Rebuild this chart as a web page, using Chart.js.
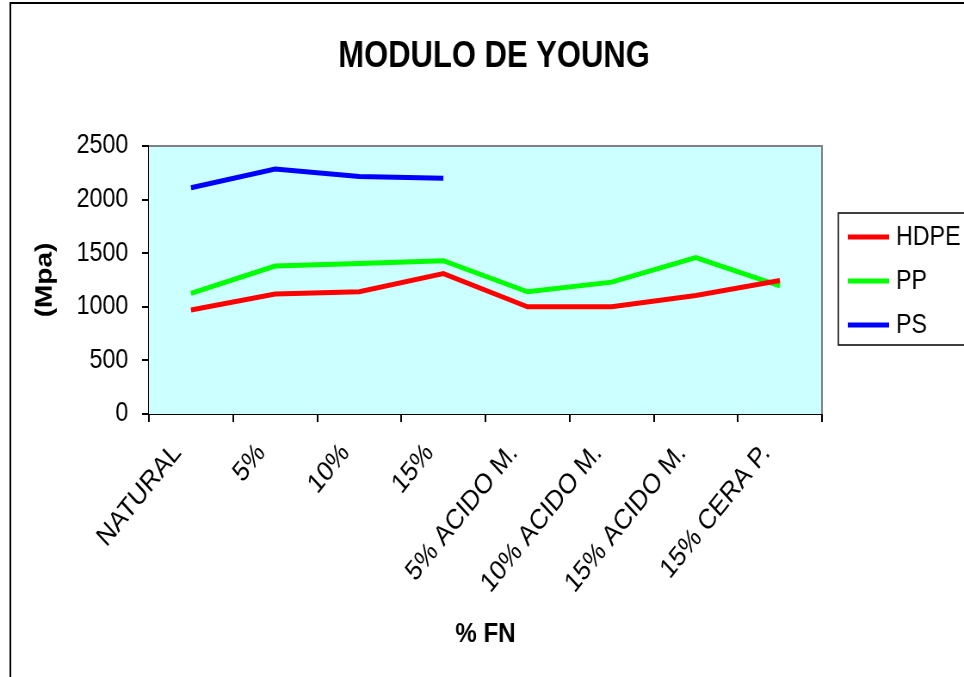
<!DOCTYPE html>
<html>
<head>
<meta charset="utf-8">
<script src="https://cdn.jsdelivr.net/npm/chart.js@4/dist/chart.umd.min.js"></script>
<style>
  body { margin: 0; background: #fff; }
</style>
</head>
<body>
<!-- drawn 1120 wide and squeezed to 964, like the original picture -->
<canvas id="c" width="1120" height="677" style="display:block;width:964px;height:677px"></canvas>
<script>
const categories = ['NATURAL', '5%', '10%', '15%', '5% ACIDO M.', '10% ACIDO M.', '15% ACIDO M.', '15% CERA P.'];
const hdpe = [970, 1120, 1140, 1310, 1000, 1000, 1105, 1245];
const pp = [1125, 1380, 1405, 1430, 1140, 1230, 1460, 1195];
const ps = [2110, 2285, 2215, 2200, null, null, null, null];
const yTicks = [0, 500, 1000, 1500, 2000, 2500];

const FONT = '"Liberation Sans", Arial, sans-serif';

// plot background, frame, title and the boxed legend
const decor = {
	id: 'decor',
	beforeDatasetsDraw(chart) {
		const { ctx, chartArea: a } = chart;
		ctx.save();
		ctx.fillStyle = '#CCFFFF';
		ctx.fillRect(a.left, a.top, a.right - a.left, a.bottom - a.top);
		ctx.strokeStyle = '#808080';
		ctx.lineWidth = 2;
		ctx.beginPath();
		ctx.moveTo(a.left, a.top);
		ctx.lineTo(a.right, a.top);
		ctx.lineTo(a.right, a.bottom);
		ctx.stroke();
		ctx.restore();
	},
	afterDraw(chart) {
		const { ctx } = chart;
		ctx.save();
		// outer chart frame
		ctx.strokeStyle = '#000';
		ctx.lineWidth = 2;
		ctx.beginPath();
		ctx.moveTo(12, 677);
		ctx.lineTo(12, 3);
		ctx.lineTo(1120, 3);
		ctx.stroke();

		// title
		ctx.fillStyle = '#000';
		ctx.font = 'bold 36px ' + FONT;
		ctx.textAlign = 'center';
		ctx.textBaseline = 'middle';
		ctx.fillText('MODULO DE YOUNG', 574, 57);

		// legend
		ctx.lineWidth = 1.5;
		ctx.strokeRect(974, 213, 200, 132);
		ctx.font = '27px ' + FONT;
		ctx.textAlign = 'left';
		chart.data.datasets.forEach((ds, i) => {
			const y = 237 + i * 44;
			ctx.strokeStyle = ds.borderColor;
			ctx.lineWidth = 5;
			ctx.beginPath();
			ctx.moveTo(985, y);
			ctx.lineTo(1033, y);
			ctx.stroke();
			ctx.fillStyle = '#000';
			ctx.fillText(ds.label, 1041, y + 1);
		});
		ctx.restore();
	}
};

new Chart(document.getElementById('c'), {
	type: 'line',
	data: {
		labels: categories,
		datasets: [
			{ label: 'HDPE', data: hdpe, borderColor: '#FF0000' },
			{ label: 'PP', data: pp, borderColor: '#00FF00' },
			{ label: 'PS', data: ps, borderColor: '#0000FF' },
		],
	},
	options: {
		responsive: false,
		animation: false,
		devicePixelRatio: 1,
		layout: { padding: { top: 146, right: 165, left: 0, bottom: 0 } },
		elements: {
			line: { borderWidth: 5, tension: 0, borderCapStyle: 'butt' },
			point: { radius: 0, hoverRadius: 0 },
		},
		plugins: {
			legend: { display: false },
			title: { display: false },
			tooltip: { enabled: false },
		},
		scales: {
			x: {
				offset: true,
				grid: { offset: true, drawOnChartArea: false, color: '#000', tickLength: 8, lineWidth: 2 },
				border: { color: '#000', width: 2 },
				ticks: {
					autoSkip: false, minRotation: 47, maxRotation: 47,
					color: '#000', font: { family: FONT, size: 28 }, padding: 15, labelOffset: -16,
				},
				title: {
					display: true, text: '% FN', color: '#000',
					font: { family: FONT, size: 28, weight: 'bold' }, padding: { top: 0, bottom: 26 },
				},
				afterFit(scale) { scale.height = 263; },
			},
			y: {
				min: 0, max: 2500,
				afterBuildTicks(scale) { scale.ticks = yTicks.map(v => ({ value: v })); },
				grid: { drawOnChartArea: false, color: '#000', tickLength: 8, lineWidth: 2 },
				border: { color: '#000', width: 2 },
				ticks: { color: '#000', font: { family: FONT, size: 27 }, padding: 16, callback: v => String(v) },
				title: {
					display: true, text: '(Mpa)', color: '#000',
					font: { family: FONT, size: 28, weight: 'bold' }, padding: { top: 35, bottom: 0 },
				},
				afterFit(scale) { scale.width = 173; },
			},
		},
	},
	plugins: [decor],
});
</script>
</body>
</html>
